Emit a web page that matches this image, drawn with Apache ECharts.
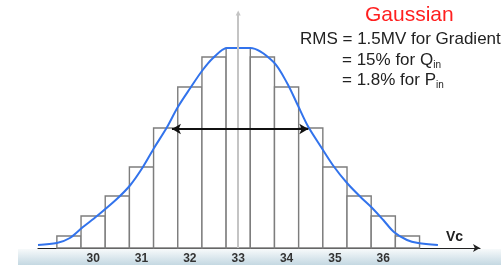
<!DOCTYPE html>
<html>
<head>
<meta charset="utf-8">
<script src="https://cdn.jsdelivr.net/npm/echarts@6/dist/echarts.min.js"></script>
<style>
  html, body { margin: 0; padding: 0; background: #fff; }
  #chart { width: 501px; height: 265px; }
</style>
</head>
<body>
<div id="chart"></div>
<script>
// histogram bins (centre of each bin, in Vc units) and bar heights
const binCenters = [29.5, 30, 30.5, 31, 31.5, 32, 32.5, 33, 33.5, 34, 34.5, 35, 35.5, 36, 36.5];
const binHeights = [6, 16, 26, 40.5, 60, 80.5, 95.5, 100, 95.5, 80.5, 60, 40.5, 26, 16, 6];
const BIN_WIDTH = 0.5;

// fitted gaussian drawn by hand on the slide
const curveX = [28.86, 29.25, 29.52, 29.79, 30.08, 30.49, 30.77, 31.03, 31.26, 31.53, 31.74, 32.01, 32.25, 32.48, 32.77,
	33.25, 33.73, 34.01, 34.24, 34.44, 34.70, 34.97, 35.25, 35.53, 35.75, 36.00, 36.22, 36.49, 36.72, 37.13];
const curveY = [1.5, 2.5, 5, 10.5, 16, 24.5, 31.5, 40.5, 50, 60.5, 70, 80, 88.5, 95, 100,
	100, 93, 82.5, 71, 61, 51, 41, 32.5, 25.5, 20.5, 14, 8, 4, 2.5, 1.5];

// x tick labels
const tickLabels = [30, 31, 32, 33, 34, 35, 36];

// width arrow (FWHM) and the vertical centre line
const fwhmArrow = { from: 31.63, to: 34.45, level: 59.5 };
const centerLine = 33;

const chart = echarts.init(document.getElementById("chart"));

const curveData = curveX.map((x, i) => [x, curveY[i]]);
const barData = binCenters.map((c, i) => [c, binHeights[i]]);

const option = {
	animation: false,
	textStyle: { fontFamily: "Liberation Sans, Arial, sans-serif" },
	grid: { left: 38, right: 21, top: 13, bottom: 17 },
	xAxis: {
		type: "value",
		min: 28.86,
		max: 38.0,
		axisLine: {
			show: true,
			symbol: ["none", "arrow"],
			symbolSize: [6, 7],
			lineStyle: { color: "#222", width: 1.2 }
		},
		axisTick: { show: false },
		splitLine: { show: false },
		axisLabel: {
			customValues: tickLabels,
			margin: 5,
			color: "#333",
			fontWeight: "bold",
			fontSize: 12
		}
	},
	yAxis: {
		type: "value",
		min: 0,
		max: 117.5,
		show: false
	},
	graphic: [
		{
			type: "rect",
			z: -10,
			shape: { x: 18, y: 249, width: 483, height: 16 },
			style: {
				fill: new echarts.graphic.LinearGradient(0, 0, 0, 1, [
					{ offset: 0, color: "#f7fafb" },
					{ offset: 1, color: "#c4d8e2" }
				])
			}
		},
		{
			type: "text",
			left: 365,
			top: 5,
			style: { text: "Gaussian", fill: "#ff1f1f", font: "21px Liberation Sans, Arial, sans-serif" }
		},
		{
			type: "text",
			left: 300,
			top: 31,
			style: { text: "RMS = 1.5MV for Gradient", fill: "#222", font: "17px Liberation Sans, Arial, sans-serif" }
		},
		{
			type: "text",
			left: 342,
			top: 52,
			style: {
				text: "= 15% for Q{sub|in}",
				fill: "#222",
				font: "17px Liberation Sans, Arial, sans-serif",
				rich: { sub: { fontSize: 10, padding: [10, 0, 0, 0], fill: "#222" } }
			}
		},
		{
			type: "text",
			left: 342,
			top: 72,
			style: {
				text: "= 1.8% for P{sub|in}",
				fill: "#222",
				font: "17px Liberation Sans, Arial, sans-serif",
				rich: { sub: { fontSize: 10, padding: [10, 0, 0, 0], fill: "#222" } }
			}
		},
		{
			type: "text",
			left: 446,
			top: 230,
			style: { text: "Vc", fill: "#222", font: "bold 14px Liberation Sans, Arial, sans-serif" }
		}
	],
	series: [
		{
			type: "custom",
			data: barData,
			renderItem: (params, api) => {
				const c = api.value(0);
				const h = api.value(1);
				const p0 = api.coord([c - BIN_WIDTH / 2, h]);
				const p1 = api.coord([c + BIN_WIDTH / 2, 0]);
				return {
					type: "rect",
					shape: { x: p0[0], y: p0[1], width: p1[0] - p0[0], height: p1[1] - p0[1] },
					style: { fill: "#fff", stroke: "#7d7d7d", lineWidth: 1.4 }
				};
			},
			markLine: {
				silent: true,
				symbol: ["none", "triangle"],
				symbolSize: [5, 5],
				label: { show: false },
				lineStyle: { color: "#c4c4c4", width: 2, type: "solid" },
				data: [{ xAxis: centerLine }]
			}
		},
		{
			type: "line",
			data: curveData,
			smooth: 0.3,
			symbol: "none",
			lineStyle: { color: "#3273ec", width: 2 },
			markLine: {
				silent: true,
				symbol: ["arrow", "arrow"],
				symbolSize: [8, 9],
				label: { show: false },
				lineStyle: { color: "#111", width: 2.2, type: "solid" },
				data: [[
					{ coord: [fwhmArrow.from, fwhmArrow.level] },
					{ coord: [fwhmArrow.to, fwhmArrow.level] }
				]]
			}
		}
	]
};

chart.setOption(option);
window.onresize = chart.resize;
</script>
</body>
</html>
